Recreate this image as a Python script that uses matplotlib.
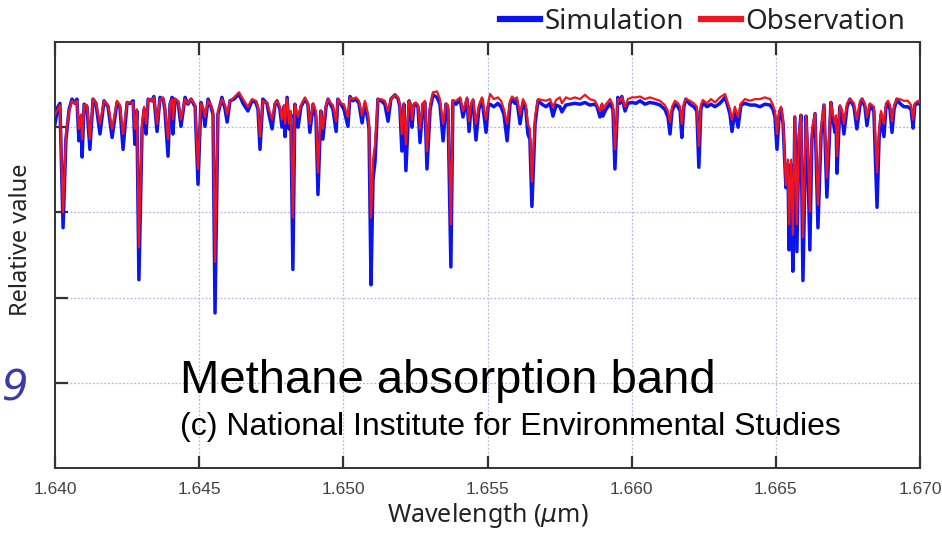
import matplotlib
matplotlib.use("Agg")
import matplotlib.pyplot as plt
from matplotlib.lines import Line2D

# Spectrum vertices (wavelength in um, relative value)
wavelength = [
    1.64000, 1.64010, 1.64017, 1.64028, 1.64038, 1.64049, 1.64059, 1.64069, 1.64076, 1.64083,
    1.64090, 1.64094, 1.64101, 1.64111, 1.64121, 1.64132, 1.64142, 1.64156, 1.64170, 1.64184,
    1.64198, 1.64215, 1.64225, 1.64236, 1.64250, 1.64260, 1.64271, 1.64277, 1.64284, 1.64291,
    1.64302, 1.64309, 1.64316, 1.64323, 1.64336, 1.64343, 1.64354, 1.64364, 1.64375, 1.64381,
    1.64392, 1.64399, 1.64406, 1.64409, 1.64416, 1.64427, 1.64437, 1.64451, 1.64461, 1.64472,
    1.64486, 1.64496, 1.64506, 1.64513, 1.64520, 1.64531, 1.64541, 1.64548, 1.64555, 1.64565,
    1.64579, 1.64590, 1.64597, 1.64607,
    1.64621, 1.64638, 1.64652, 1.64669, 1.64683, 1.64697, 1.64704, 1.64711, 1.64721, 1.64735,
    1.64742, 1.64753, 1.64763, 1.64770, 1.64780, 1.64787, 1.64794, 1.64798, 1.64805, 1.64812,
    1.64818, 1.64825, 1.64832, 1.64843, 1.64853, 1.64867, 1.64877, 1.64884, 1.64895, 1.64905,
    1.64912, 1.64922, 1.64929, 1.64940, 1.64947, 1.64957, 1.64964, 1.64975, 1.64981, 1.64992,
    1.65002, 1.65016, 1.65023, 1.65033, 1.65044, 1.65054, 1.65065, 1.65075, 1.65086, 1.65089,
    1.65096, 1.65103, 1.65110, 1.65120, 1.65131, 1.65144, 1.65155, 1.65165, 1.65179, 1.65190,
    1.65196, 1.65203,
    1.65210, 1.65217, 1.65228, 1.65235, 1.65238, 1.65245, 1.65252, 1.65259, 1.65266, 1.65276,
    1.65283, 1.65290, 1.65301, 1.65311, 1.65325, 1.65335, 1.65346, 1.65356, 1.65363, 1.65373,
    1.65380, 1.65391, 1.65405, 1.65415, 1.65429, 1.65436, 1.65443, 1.65450, 1.65460, 1.65470,
    1.65481, 1.65495, 1.65502, 1.65509, 1.65522, 1.65536, 1.65547, 1.65557, 1.65568, 1.65578,
    1.65585, 1.65595, 1.65602, 1.65613, 1.65623, 1.65633, 1.65640, 1.65647, 1.65654, 1.65665,
    1.65675, 1.65689, 1.65703, 1.65717, 1.65727, 1.65738, 1.65751, 1.65758, 1.65772, 1.65786,
    1.65803,
    1.65821, 1.65838, 1.65855, 1.65873, 1.65880, 1.65890, 1.65897, 1.65900, 1.65911, 1.65925,
    1.65935, 1.65942, 1.65952, 1.65959, 1.65966, 1.65977, 1.65987, 1.66001, 1.66015, 1.66029,
    1.66046, 1.66063, 1.66081, 1.66098, 1.66115, 1.66126, 1.66133, 1.66140, 1.66150, 1.66161,
    1.66168, 1.66174, 1.66181, 1.66188, 1.66202, 1.66216, 1.66226, 1.66233, 1.66240, 1.66247,
    1.66261, 1.66275, 1.66289, 1.66306, 1.66324, 1.66334, 1.66341, 1.66348, 1.66358, 1.66369,
    1.66379, 1.66393, 1.66410,
    1.66428, 1.66445, 1.66462, 1.66480, 1.66490, 1.66497, 1.66504, 1.66511, 1.66518, 1.66525,
    1.66535, 1.66542, 1.66546, 1.66553, 1.66559, 1.66566, 1.66573, 1.66580, 1.66587, 1.66594,
    1.66605, 1.66611, 1.66618, 1.66625, 1.66636, 1.66646, 1.66657, 1.66667, 1.66677, 1.66691,
    1.66698, 1.66705, 1.66709, 1.66712, 1.66722, 1.66729, 1.66736, 1.66747, 1.66757, 1.66771,
    1.66781, 1.66792, 1.66799, 1.66809, 1.66816, 1.66826, 1.66840, 1.66851, 1.66858, 1.66865,
    1.66875, 1.66882, 1.66889, 1.66896, 1.66903, 1.66910, 1.66920, 1.66930, 1.66944, 1.66958,
    1.66969, 1.66976, 1.66982, 1.66993, 1.67000,
]

simulation = [
    4.04, 4.24, 4.28, 2.82, 3.86, 4.21, 4.33, 4.28, 4.33, 3.84,
    4.12, 3.65, 4.27, 4.24, 3.74, 4.33, 4.28, 3.92, 4.31, 4.24,
    3.88, 4.29, 4.24, 3.74, 4.29, 4.28, 4.31, 3.80, 4.19, 2.21,
    3.98, 4.21, 3.92, 4.33, 4.31, 4.36, 3.95, 4.35, 4.33, 4.21,
    3.66, 4.27, 4.35, 3.92, 4.33, 4.29, 4.01, 4.35, 4.27, 4.33,
    4.24, 3.33, 4.29, 4.21, 4.01, 4.33, 4.24, 4.15, 1.82, 4.15,
    4.35, 4.21, 4.06, 4.31,
    4.33, 4.39, 4.28, 4.19, 4.31, 4.29, 4.21, 3.74, 4.33, 4.28,
    4.15, 3.98, 4.27, 4.31, 4.21, 4.00, 4.24, 3.89, 4.35, 3.98,
    4.15, 2.33, 4.27, 4.00, 4.24, 4.33, 4.27, 3.94, 4.27, 4.12,
    3.21, 4.19, 3.86, 4.24, 4.33, 4.26, 4.21, 3.95, 4.33, 4.27,
    4.21, 4.01, 4.36, 4.31, 4.33, 4.28, 4.05, 4.28, 4.07, 3.98,
    2.15, 3.39, 3.60, 4.33, 4.31, 4.27, 4.07, 4.33, 4.38, 4.33,
    4.24, 3.72,
    4.27, 3.49, 4.31, 4.24, 4.00, 4.26, 4.27, 4.24, 3.82, 4.27,
    4.29, 3.51, 4.21, 4.38, 4.35, 4.27, 3.84, 4.27, 4.21, 2.36,
    4.31, 4.27, 4.33, 4.12, 4.33, 3.95, 4.24, 4.31, 3.85, 4.21,
    4.33, 3.94, 4.24, 4.27, 4.24, 4.28, 4.24, 4.15, 3.84, 4.27,
    4.33, 4.28, 4.31, 4.04, 4.29, 4.21, 3.92, 3.86, 3.07, 4.04,
    4.31, 4.27, 4.24, 4.28, 4.13, 4.26, 4.24, 4.18, 4.26, 4.27,
    4.28,
    4.27, 4.29, 4.26, 4.27, 4.24, 4.12, 4.26, 4.13, 4.21, 4.28,
    4.21, 3.51, 4.35, 4.28, 4.36, 4.19, 4.28, 4.29, 4.28, 4.31,
    4.27, 4.29, 4.28, 4.26, 4.21, 4.12, 3.92, 4.19, 4.27, 4.24,
    4.19, 3.88, 4.24, 4.33, 4.27, 4.24, 4.19, 3.53, 4.21, 4.29,
    4.24, 4.27, 4.24, 4.28, 4.35, 4.24, 4.15, 3.95, 4.19, 4.00,
    4.26, 4.28, 4.26,
    4.26, 4.24, 4.27, 4.26, 4.21, 4.12, 3.74, 4.12, 4.22, 4.04,
    3.29, 3.56, 2.56, 3.56, 2.31, 4.12, 2.54, 3.86, 4.14, 2.20,
    4.13, 3.62, 2.56, 3.86, 4.16, 2.82, 3.92, 4.26, 3.18, 4.29,
    4.09, 3.94, 4.09, 3.46, 4.24, 4.15, 3.92, 4.24, 4.33, 4.24,
    3.98, 4.26, 4.33, 4.24, 4.02, 4.26, 4.19, 3.06, 3.86, 4.15,
    3.89, 4.24, 4.27, 4.21, 3.94, 4.21, 4.33, 4.28, 4.24, 4.24,
    4.21, 3.99, 4.26, 4.28, 4.27,
]

observation = [
    4.15, 4.21, 4.26, 3.00, 3.92, 4.19, 4.31, 4.28, 4.31, 3.98,
    4.15, 3.86, 4.26, 4.26, 3.86, 4.33, 4.29, 4.04, 4.31, 4.26,
    3.98, 4.31, 4.26, 3.92, 4.29, 4.29, 4.29, 3.98, 4.21, 2.59,
    4.04, 4.24, 4.04, 4.33, 4.31, 4.35, 4.04, 4.33, 4.35, 4.24,
    3.86, 4.28, 4.33, 4.09, 4.33, 4.31, 4.09, 4.33, 4.28, 4.33,
    4.26, 3.51, 4.28, 4.24, 4.12, 4.31, 4.26, 4.19, 2.42, 4.19,
    4.33, 4.26, 4.15, 4.31,
    4.35, 4.41, 4.33, 4.24, 4.33, 4.31, 4.24, 3.89, 4.31, 4.29,
    4.21, 4.09, 4.28, 4.31, 4.24, 4.09, 4.26, 4.04, 4.33, 4.04,
    4.19, 2.94, 4.27, 4.12, 4.26, 4.35, 4.28, 4.04, 4.28, 4.19,
    3.47, 4.19, 3.98, 4.26, 4.33, 4.28, 4.26, 4.07, 4.33, 4.28,
    4.27, 4.12, 4.35, 4.33, 4.35, 4.31, 4.14, 4.31, 4.15, 4.04,
    2.94, 3.62, 3.80, 4.33, 4.33, 4.31, 4.19, 4.33, 4.38, 4.35,
    4.26, 3.92,
    4.28, 3.80, 4.31, 4.26, 4.09, 4.28, 4.29, 4.26, 3.98, 4.28,
    4.31, 3.72, 4.26, 4.41, 4.42, 4.33, 4.04, 4.28, 4.26, 2.86,
    4.31, 4.31, 4.35, 4.19, 4.35, 4.07, 4.28, 4.33, 4.04, 4.26,
    4.35, 4.09, 4.28, 4.39, 4.33, 4.35, 4.31, 4.21, 4.04, 4.31,
    4.36, 4.33, 4.35, 4.15, 4.33, 4.26, 4.04, 3.98, 3.36, 4.12,
    4.33, 4.32, 4.31, 4.33, 4.24, 4.32, 4.35, 4.28, 4.35, 4.33,
    4.35,
    4.33, 4.38, 4.33, 4.31, 4.26, 4.19, 4.28, 4.21, 4.27, 4.33,
    4.26, 3.74, 4.33, 4.31, 4.35, 4.24, 4.33, 4.35, 4.35, 4.36,
    4.33, 4.35, 4.33, 4.31, 4.26, 4.19, 4.06, 4.24, 4.31, 4.28,
    4.24, 4.04, 4.28, 4.33, 4.31, 4.28, 4.24, 3.78, 4.26, 4.32,
    4.28, 4.33, 4.29, 4.35, 4.39, 4.28, 4.21, 4.09, 4.24, 4.12,
    4.28, 4.33, 4.31,
    4.33, 4.33, 4.35, 4.33, 4.26, 4.19, 3.92, 4.19, 4.24, 4.09,
    3.32, 3.62, 2.86, 3.62, 2.74, 4.12, 2.86, 3.92, 4.14, 2.71,
    4.13, 3.74, 3.01, 3.98, 4.16, 3.09, 3.98, 4.26, 3.41, 4.29,
    4.15, 4.04, 4.14, 3.66, 4.26, 4.21, 4.04, 4.28, 4.33, 4.28,
    4.09, 4.31, 4.33, 4.28, 4.12, 4.28, 4.24, 3.47, 3.98, 4.19,
    4.04, 4.28, 4.31, 4.26, 4.07, 4.26, 4.33, 4.33, 4.31, 4.31,
    4.26, 4.09, 4.28, 4.31, 4.29,
]

x_ticks = [1.640, 1.645, 1.650, 1.655, 1.660, 1.665, 1.670]
y_ticks = [1, 2, 3, 4]

fig = plt.figure(figsize=(9.42, 5.33), dpi=100)
ax = fig.add_axes([55 / 942, 65 / 533, 865 / 942, 426 / 533])

ax.plot(wavelength, simulation, color='#0a14f0', lw=2.5, zorder=3)
ax.plot(wavelength, observation, color='#f0141e', lw=1.6, zorder=4)

ax.set_xlim(1.640, 1.670)
ax.set_ylim(0, 5)
ax.set_xticks(x_ticks)
ax.set_xticklabels(['%.3f' % t for t in x_ticks], family=['Liberation Sans Narrow', 'Liberation Sans'],
                   fontsize=12.5, color='#444444')
ax.set_yticks(y_ticks)
ax.set_yticklabels([])
ax.tick_params(axis='x', direction='in', top=True, bottom=True, length=9, width=1.6, color='#333333', pad=10)
ax.tick_params(axis='y', direction='in', left=True, right=False, length=9, width=1.6, color='#333333')
for s in ax.spines.values():
    s.set_linewidth(1.4)
    s.set_color('#333333')
ax.grid(True, linestyle=(0, (1.5, 1.5)), color='#b4b4e6', lw=0.9, zorder=0)

ax.set_ylabel('Relative value', family='Noto Sans', fontsize=17, color='#222222')
ax.yaxis.set_label_coords(-0.026, 0.535)
ax.set_xlabel('Wavelength ($\\mu$m)', family='Noto Sans', fontsize=18, color='#222222')
ax.xaxis.set_label_coords(0.5, -0.078)

ax.text(1.64434, 0.88, 'Methane absorption band', family='Liberation Sans', fontsize=34,
        va='baseline', ha='left', color='black', zorder=5)
ax.text(1.64434, 0.39, '(c) National Institute for Environmental Studies', family='Liberation Sans',
        fontsize=23, va='baseline', ha='left', color='black', zorder=5)

fig.text(0.001, 0.272, '9', fontsize=30, style='italic', color='#3a3aa8', va='center', ha='left')

handles = [Line2D([], [], color='#0a14f0', lw=4.5), Line2D([], [], color='#f0141e', lw=4.5)]
leg = fig.legend(handles, ['Simulation', 'Observation'], loc='center right',
                 bbox_to_anchor=(905 / 942, 1 - 22 / 533), ncol=2, frameon=False,
                 prop={'family': 'Noto Sans', 'size': 20}, handlelength=1.45,
                 handletextpad=0.15, columnspacing=0.6, borderpad=0, borderaxespad=0)
for t in leg.get_texts():
    t.set_color('#222222')

fig.savefig('out.png', dpi=100)
